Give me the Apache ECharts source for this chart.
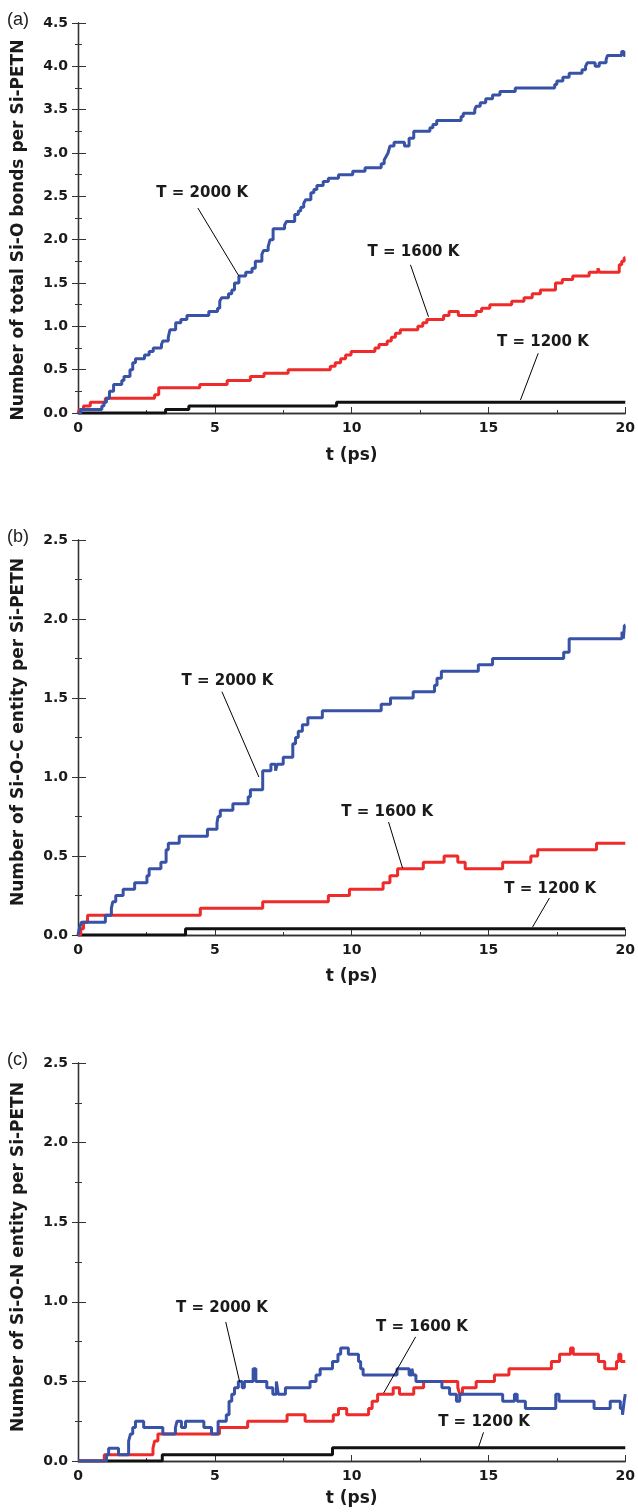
<!DOCTYPE html>
<html>
<head>
<meta charset="utf-8">
<script src="https://cdn.jsdelivr.net/npm/echarts@6/dist/echarts.min.js"></script>
<style>
  html, body { margin: 0; padding: 0; background: #fff; }
  #main { width: 638px; height: 1512px; }
</style>
</head>
<body>
<div id="main"></div>
<script>
// step curves, [t (ps), count] — value jumps to count at t
const a2000 = [[0,0],[0.1,0.04],[0.87,0.08],[0.95,0.125],[1.04,0.17],[1.15,0.25],[1.3,0.33],[1.6,0.375],[1.68,0.42],[1.9,0.5],[2.0,0.58],[2.1,0.625],[2.43,0.67],[2.6,0.71],[2.75,0.75],[3.05,0.79],[3.1,0.83],[3.3,0.875],[3.36,0.96],[3.57,1.04],[3.76,1.08],[3.98,1.125],[4.78,1.17],[5.1,1.21],[5.18,1.29],[5.25,1.33],[5.5,1.375],[5.62,1.42],[5.72,1.5],[5.88,1.58],[6.13,1.625],[6.36,1.67],[6.48,1.75],[6.72,1.83],[6.78,1.875],[6.95,1.92],[7.02,2.0],[7.13,2.125],[7.55,2.17],[7.62,2.21],[7.92,2.29],[8.05,2.33],[8.14,2.375],[8.25,2.42],[8.32,2.46],[8.51,2.54],[8.62,2.58],[8.73,2.625],[8.96,2.67],[9.15,2.71],[9.52,2.75],[10.04,2.79],[10.49,2.83],[11.08,2.875],[11.19,2.92],[11.26,2.96],[11.33,3.0],[11.4,3.08],[11.55,3.125],[11.93,3.08],[12.1,3.17],[12.27,3.25],[12.86,3.29],[12.97,3.33],[13.11,3.375],[14.0,3.42],[14.08,3.46],[14.5,3.5],[14.55,3.54],[14.7,3.58],[14.9,3.625],[15.15,3.67],[15.42,3.71],[15.98,3.75],[17.42,3.79],[17.5,3.83],[17.72,3.875],[17.95,3.92],[18.42,3.96],[18.55,4.0],[18.61,4.04],[18.9,4.0],[19.05,4.04],[19.3,4.08],[19.35,4.125],[19.87,4.17],[19.95,4.125],[20,4.125]];
const a1600 = [[0,0],[0.05,0.04],[0.2,0.08],[0.45,0.125],[1.0,0.17],[2.8,0.21],[2.95,0.29],[4.45,0.33],[5.45,0.375],[6.3,0.42],[6.8,0.46],[7.68,0.5],[9.22,0.54],[9.4,0.58],[9.6,0.625],[9.78,0.67],[9.98,0.71],[10.85,0.75],[11.0,0.79],[11.3,0.83],[11.45,0.875],[11.6,0.92],[11.78,0.96],[12.42,1.0],[12.6,1.04],[12.75,1.08],[13.36,1.125],[13.56,1.17],[13.9,1.125],[14.55,1.17],[14.75,1.21],[15.05,1.25],[15.85,1.29],[16.3,1.33],[16.6,1.375],[16.9,1.42],[17.45,1.5],[17.7,1.54],[18.08,1.58],[18.68,1.625],[19.0,1.67],[19.06,1.625],[19.78,1.71],[19.87,1.75],[19.96,1.79],[20,1.79]];
const a1200 = [[0,0],[3.2,0.04],[4.05,0.08],[9.45,0.125],[20,0.125]];

const b2000 = [[0,0],[0.05,0.04],[0.12,0.08],[1.0,0.125],[1.22,0.17],[1.27,0.21],[1.38,0.25],[1.65,0.29],[2.07,0.33],[2.52,0.375],[2.6,0.42],[3.03,0.46],[3.22,0.54],[3.3,0.58],[3.7,0.625],[4.73,0.67],[5.08,0.71],[5.12,0.75],[5.2,0.79],[5.66,0.83],[6.22,0.875],[6.3,0.92],[6.75,1.04],[7.05,1.08],[7.22,1.04],[7.28,1.08],[7.5,1.125],[7.85,1.21],[7.95,1.25],[8.05,1.29],[8.2,1.33],[8.4,1.375],[8.93,1.42],[11.08,1.46],[11.42,1.5],[12.25,1.54],[13.03,1.58],[13.12,1.625],[13.28,1.67],[14.63,1.71],[15.15,1.75],[17.75,1.79],[17.95,1.875],[19.88,1.92],[19.93,1.875],[19.97,1.96],[20,1.96]];
const b1600 = [[0,0],[0.1,0.04],[0.2,0.08],[0.35,0.125],[4.47,0.17],[6.75,0.21],[9.15,0.25],[9.92,0.29],[11.15,0.33],[11.4,0.375],[11.68,0.42],[12.62,0.46],[13.38,0.5],[13.88,0.46],[14.15,0.42],[15.52,0.46],[16.55,0.5],[16.8,0.54],[18.95,0.58],[20,0.58]];
const b1200 = [[0,0],[3.93,0.04],[20,0.04]];

const c2000 = [[0,0],[1.04,0.04],[1.12,0.08],[1.48,0.04],[1.85,0.125],[1.92,0.17],[2.0,0.21],[2.1,0.25],[2.4,0.21],[3.1,0.17],[3.56,0.21],[3.62,0.25],[3.78,0.21],[3.93,0.25],[4.6,0.21],[4.88,0.17],[5.12,0.25],[5.42,0.29],[5.52,0.375],[5.62,0.42],[5.72,0.46],[5.86,0.5],[6.0,0.46],[6.08,0.5],[6.4,0.58],[6.5,0.5],[6.9,0.46],[7.12,0.42],[7.25,0.5],[7.32,0.42],[7.58,0.46],[8.48,0.5],[8.7,0.54],[8.85,0.58],[9.3,0.625],[9.5,0.67],[9.6,0.71],[9.88,0.67],[10.25,0.625],[10.33,0.58],[10.42,0.54],[11.66,0.58],[12.1,0.54],[12.2,0.58],[12.25,0.54],[12.35,0.5],[13.3,0.46],[13.58,0.42],[13.83,0.375],[13.95,0.42],[15.52,0.375],[15.95,0.42],[16.05,0.375],[16.35,0.33],[17.46,0.42],[17.58,0.375],[18.86,0.33],[19.45,0.375],[19.82,0.33],[19.9,0.29],[19.96,0.375],[20,0.42]];
const c1600 = [[0,0],[0.96,0.04],[2.74,0.08],[2.8,0.125],[2.92,0.17],[5.17,0.21],[6.2,0.25],[7.64,0.29],[8.3,0.25],[9.33,0.29],[9.52,0.33],[9.82,0.29],[10.62,0.33],[10.75,0.375],[10.95,0.42],[11.52,0.46],[11.75,0.42],[12.27,0.46],[12.63,0.5],[13.88,0.46],[13.95,0.42],[14.05,0.46],[14.55,0.5],[15.22,0.54],[15.75,0.58],[17.3,0.625],[17.6,0.67],[18.0,0.71],[18.1,0.67],[19.02,0.625],[19.25,0.58],[19.68,0.625],[19.76,0.67],[19.84,0.625],[20,0.625]];
const c1200 = [[0,0],[3.08,0.04],[9.3,0.083],[20,0.083]];

const panelTags = ['(a)', '(b)', '(c)'];
const yTitles = [
  'Number of total Si-O bonds per Si-PETN',
  'Number of Si-O-C entity per Si-PETN',
  'Number of Si-O-N entity per Si-PETN'
];
const yMax = [4.5, 2.5, 2.5];
const tempLabels = ['T = 2000 K', 'T = 1600 K', 'T = 1200 K'];

// annotation label position + arrow (from -> to), in data units
const notes = [
  [ { at: [4.54, 2.54], from: [4.38, 2.365], to: [5.88, 1.58] },
    { at: [12.26, 1.86], from: [12.15, 1.71], to: [12.81, 1.11] },
    { at: [16.99, 0.82], from: [16.82, 0.69], to: [16.17, 0.15] } ],
  [ { at: [5.46, 1.61], from: [5.26, 1.54], to: [6.61, 1.0] },
    { at: [11.30, 0.78], from: [11.35, 0.715], to: [11.86, 0.424] },
    { at: [17.26, 0.29], from: [17.23, 0.234], to: [16.61, 0.05] } ],
  [ { at: [5.26, 0.96], from: [5.40, 0.873], to: [5.91, 0.496] },
    { at: [12.57, 0.84], from: [12.34, 0.78], to: [11.17, 0.427] },
    { at: [14.84, 0.245], from: [14.82, 0.18], to: [14.64, 0.088] } ]
];

const curves = [[a2000, a1600, a1200], [b2000, b1600, b1200], [c2000, c1600, c1200]];
const colors = ['#3852a6', '#ee2b2b', '#111111'];

const grids = [
  { left: 78, top: 23, width: 548, height: 390 },
  { left: 78, top: 540, width: 548, height: 395 },
  { left: 78, top: 1063, width: 548, height: 398 }
];
const xNameGap = [34, 33, 29];
const yTitleCenter = [230, 732, 1257]; // y-titles sit a little off the plot middle

const FONT = 'DejaVu Sans';
const frame = { show: true, lineStyle: { color: '#333', width: 1.3 } };

const xAxes = [], yAxes = [], series = [];
grids.forEach((g, i) => {
  xAxes.push({
    gridIndex: i, type: 'value', min: 0, max: 20, interval: 5,
    name: 't (ps)', nameLocation: 'middle', nameGap: xNameGap[i],
    nameTextStyle: { fontFamily: FONT, fontWeight: 'bold', fontSize: 17, color: '#1a1a1a' },
    axisLine: frame,
    axisTick: { inside: true, length: 6, lineStyle: { color: '#333' } },
    minorTick: { show: true, splitNumber: 2, length: 3, lineStyle: { color: '#333' } },
    axisLabel: { fontFamily: FONT, fontWeight: 'bold', fontSize: 14, color: '#1a1a1a', margin: 8 },
    splitLine: { show: false }
  });
  xAxes.push({
    gridIndex: i, type: 'value', position: 'top', min: 0, max: 20, interval: 5,
    axisLine: frame, axisTick: { show: false }, axisLabel: { show: false }, splitLine: { show: false }
  });
  yAxes.push({
    gridIndex: i, type: 'value', min: 0, max: yMax[i], interval: 0.5,
    axisLine: frame,
    axisTick: { inside: true, length: 8, lineStyle: { color: '#333' } },
    minorTick: { show: true, splitNumber: 2, length: 4, lineStyle: { color: '#333' } },
    axisLabel: { fontFamily: FONT, fontWeight: 'bold', fontSize: 14, color: '#1a1a1a', margin: 10,
                 formatter: v => v.toFixed(1) },
    splitLine: { show: false }
  });
  yAxes.push({
    gridIndex: i, type: 'value', position: 'right', min: 0, max: yMax[i], interval: 0.5,
    axisLine: frame,
    axisTick: { inside: true, length: 6, lineStyle: { color: '#333' } },
    minorTick: { show: true, splitNumber: 2, length: 3, lineStyle: { color: '#333' } },
    axisLabel: { show: false }, splitLine: { show: false }
  });

  curves[i].forEach((data, k) => {
    const n = notes[i][k];
    series.push({
      type: 'line', step: 'end', xAxisIndex: i * 2, yAxisIndex: i * 2,
      data: data, showSymbol: false, symbol: 'none', silent: true,
      lineStyle: { color: colors[k], width: 3 }, z: 3 - k,
      markLine: {
        silent: true, symbol: ['none', 'arrow'], symbolSize: [0, 9],
        lineStyle: { color: '#000', width: 1, type: 'solid' }, label: { show: false },
        data: [[{ coord: n.from }, { coord: n.to }]]
      }
    });
  });
});

const chart = echarts.init(document.getElementById('main'));
chart.setOption({
  animation: false,
  grid: grids,
  xAxis: xAxes,
  yAxis: yAxes,
  series: series
});

// texts placed through the axes' own conversion
const graphics = [];
grids.forEach((g, i) => {
  graphics.push({
    type: 'text', left: 7, top: g.top - 12,
    style: { text: panelTags[i], fontFamily: 'Liberation Sans', fontSize: 18, fill: '#222' }
  });
  graphics.push({
    type: 'text', x: 19, y: yTitleCenter[i], rotation: Math.PI / 2,
    style: { text: yTitles[i], fontFamily: FONT, fontWeight: 'bold', fontSize: 17,
             fill: '#1a1a1a', align: 'center', verticalAlign: 'middle' }
  });
  notes[i].forEach((n, k) => {
    const p = chart.convertToPixel({ xAxisIndex: i * 2, yAxisIndex: i * 2 }, n.at);
    graphics.push({
      type: 'text', x: p[0], y: p[1],
      style: { text: tempLabels[k], fontFamily: FONT, fontWeight: 'bold', fontSize: 15,
               fill: '#1a1a1a', align: 'center', verticalAlign: 'middle' }
    });
  });
});
chart.setOption({ graphic: graphics });
</script>
</body>
</html>
